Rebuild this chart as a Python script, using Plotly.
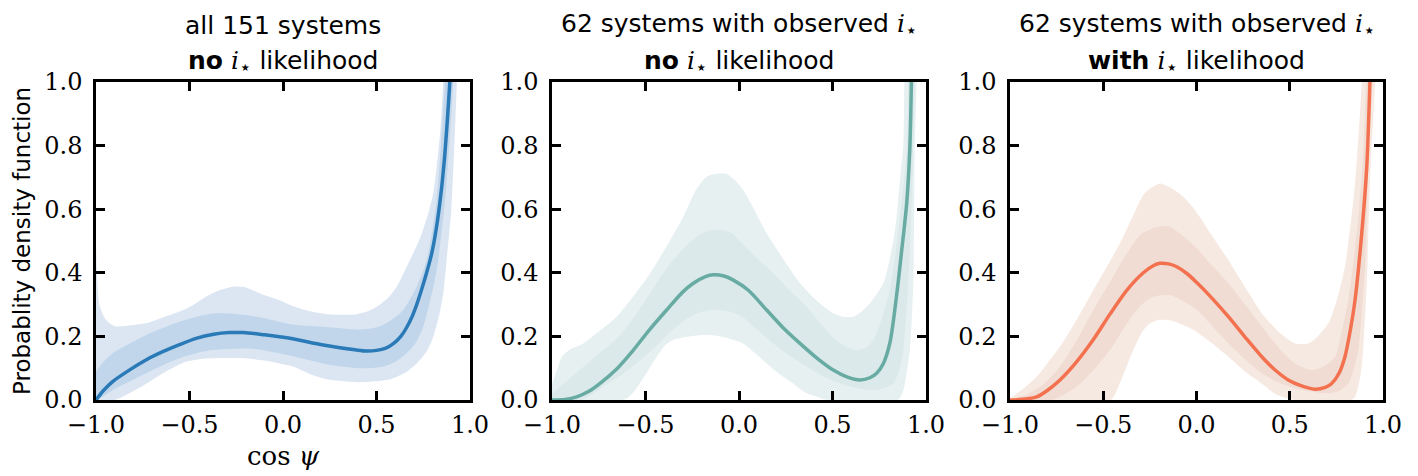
import plotly.graph_objects as go

# ---------------- data ----------------
# Panel 1: all 151 systems, no i* likelihood (blue)
p1_med_x = [-1.0, -0.96, -0.911, -0.822, -0.733, -0.643, -0.55, -0.465, -0.37, -0.287, -0.212, -0.1, 0.037, 0.215, 0.394, 0.447, 0.50, 0.55, 0.59, 0.63, 0.661, 0.69, 0.715, 0.74, 0.768, 0.795, 0.82, 0.845, 0.865, 0.88, 0.892, 0.91]
p1_med_y = [0.0, 0.03, 0.058, 0.094, 0.126, 0.152, 0.175, 0.194, 0.207, 0.212, 0.212, 0.205, 0.194, 0.173, 0.157, 0.154, 0.156, 0.163, 0.177, 0.20, 0.228, 0.262, 0.30, 0.345, 0.40, 0.46, 0.54, 0.65, 0.77, 0.89, 1.0, 1.25]

p1_out_up_x = [-1.0, -0.982, -0.947, -0.9, -0.8, -0.733, -0.654, -0.554, -0.48, -0.412, -0.34, -0.26, -0.198, -0.123, -0.02, 0.055, 0.15, 0.234, 0.32, 0.394, 0.45, 0.501, 0.56, 0.608, 0.679, 0.74, 0.80, 0.84, 0.857, 0.87]
p1_out_up_y = [0.50, 0.30, 0.252, 0.232, 0.236, 0.241, 0.257, 0.278, 0.299, 0.325, 0.345, 0.357, 0.354, 0.335, 0.314, 0.295, 0.278, 0.27, 0.268, 0.27, 0.278, 0.293, 0.32, 0.356, 0.44, 0.52, 0.64, 0.84, 1.0, 1.2]
p1_out_lo_x = [-1.0, -0.9, -0.822, -0.72, -0.643, -0.56, -0.519, -0.45, -0.376, -0.198, -0.1, -0.02, 0.055, 0.15, 0.234, 0.394, 0.48, 0.572, 0.65, 0.715, 0.77, 0.804, 0.84, 0.857, 0.875, 0.90, 0.93, 0.94]
p1_out_lo_y = [0.0, 0.0, 0.021, 0.055, 0.084, 0.11, 0.12, 0.128, 0.131, 0.131, 0.124, 0.115, 0.105, 0.08, 0.065, 0.056, 0.058, 0.065, 0.085, 0.115, 0.155, 0.199, 0.28, 0.335, 0.44, 0.6, 1.0, 1.2]

p1_in_up_x = [-1.0, -0.96, -0.911, -0.82, -0.733, -0.64, -0.554, -0.46, -0.376, -0.29, -0.198, -0.1, -0.02, 0.037, 0.215, 0.394, 0.47, 0.536, 0.6, 0.643, 0.715, 0.768, 0.82, 0.866, 0.88]
p1_in_up_y = [0.09, 0.12, 0.147, 0.178, 0.204, 0.227, 0.246, 0.262, 0.272, 0.272, 0.267, 0.257, 0.246, 0.238, 0.23, 0.222, 0.225, 0.236, 0.26, 0.283, 0.356, 0.44, 0.62, 1.0, 1.2]
p1_in_lo_x = [-1.0, -0.96, -0.911, -0.82, -0.733, -0.64, -0.554, -0.46, -0.376, -0.198, -0.1, -0.02, 0.037, 0.215, 0.30, 0.394, 0.47, 0.536, 0.6, 0.661, 0.71, 0.75, 0.804, 0.83, 0.87, 0.91, 0.92]
p1_in_lo_y = [0.0, 0.012, 0.031, 0.058, 0.084, 0.11, 0.131, 0.148, 0.157, 0.162, 0.156, 0.147, 0.14, 0.115, 0.106, 0.1, 0.1, 0.105, 0.12, 0.147, 0.18, 0.23, 0.356, 0.44, 0.65, 1.0, 1.2]

# Panel 2: 62 systems, no i* likelihood (teal)
p2_med_x = [-1.0, -0.93, -0.868, -0.8, -0.743, -0.65, -0.565, -0.48, -0.387, -0.3, -0.244, -0.18, -0.137, -0.08, -0.03, 0.05, 0.148, 0.24, 0.326, 0.42, 0.504, 0.58, 0.647, 0.7, 0.736, 0.772, 0.807, 0.843, 0.87, 0.897, 0.914, 0.922, 0.93]
p2_med_y = [0.0, 0.002, 0.01, 0.028, 0.052, 0.10, 0.157, 0.22, 0.283, 0.34, 0.367, 0.388, 0.394, 0.39, 0.377, 0.345, 0.283, 0.225, 0.178, 0.13, 0.094, 0.072, 0.063, 0.07, 0.084, 0.115, 0.18, 0.33, 0.47, 0.62, 0.80, 1.0, 1.2]

p2_out_up_x = [-1.0, -0.97, -0.947, -0.9, -0.833, -0.74, -0.654, -0.56, -0.476, -0.39, -0.298, -0.23, -0.173, -0.11, -0.066, -0.02, 0.023, 0.08, 0.148, 0.24, 0.326, 0.42, 0.504, 0.56, 0.611, 0.66, 0.70, 0.772, 0.825, 0.843, 0.865, 0.879, 0.884, 0.89]
p2_out_up_y = [0.05, 0.10, 0.136, 0.16, 0.178, 0.22, 0.262, 0.33, 0.398, 0.48, 0.576, 0.66, 0.702, 0.712, 0.711, 0.69, 0.66, 0.60, 0.524, 0.44, 0.367, 0.31, 0.273, 0.262, 0.262, 0.28, 0.304, 0.367, 0.50, 0.576, 0.72, 0.80, 1.0, 1.3]
p2_out_lo_x = [-1.0, -0.62, -0.58, -0.53, -0.44, -0.39, -0.351, -0.287, -0.209, -0.109, -0.03, 0.016, 0.08, 0.148, 0.22, 0.29, 0.35, 0.415, 0.47, 0.85, 0.879, 0.9, 0.914, 0.932, 0.94, 0.95, 0.955]
p2_out_lo_y = [0.0, 0.0, 0.015, 0.052, 0.136, 0.175, 0.189, 0.198, 0.204, 0.201, 0.189, 0.18, 0.15, 0.115, 0.08, 0.052, 0.025, 0.01, 0.0, 0.0, 0.031, 0.10, 0.157, 0.367, 0.786, 1.0, 1.2]

p2_in_up_x = [-1.0, -0.9, -0.8, -0.72, -0.643, -0.55, -0.465, -0.38, -0.287, -0.21, -0.144, -0.08, -0.037, 0.005, 0.09, 0.183, 0.27, 0.362, 0.45, 0.54, 0.629, 0.68, 0.718, 0.76, 0.807, 0.861, 0.897, 0.905, 0.91]
p2_in_up_y = [0.02, 0.07, 0.12, 0.16, 0.199, 0.27, 0.346, 0.42, 0.482, 0.52, 0.535, 0.533, 0.524, 0.50, 0.45, 0.398, 0.345, 0.293, 0.23, 0.178, 0.157, 0.165, 0.189, 0.25, 0.346, 0.576, 0.786, 1.0, 1.2]
p2_in_lo_x = [-1.0, -0.85, -0.78, -0.72, -0.643, -0.55, -0.465, -0.38, -0.287, -0.21, -0.144, -0.07, 0.0, 0.09, 0.183, 0.27, 0.362, 0.45, 0.54, 0.63, 0.718, 0.78, 0.825, 0.855, 0.879, 0.914, 0.932, 0.94, 0.945]
p2_in_lo_y = [0.0, 0.0, 0.02, 0.045, 0.073, 0.115, 0.157, 0.207, 0.252, 0.275, 0.283, 0.28, 0.268, 0.225, 0.178, 0.14, 0.105, 0.075, 0.052, 0.038, 0.031, 0.038, 0.052, 0.09, 0.157, 0.472, 0.786, 1.0, 1.2]

# Panel 3: 62 systems, with i* likelihood (orange)
p3_med_x = [-1.0, -0.93, -0.857, -0.8, -0.732, -0.643, -0.553, -0.464, -0.374, -0.285, -0.23, -0.196, -0.15, -0.106, -0.05, 0.0, 0.08, 0.171, 0.26, 0.35, 0.42, 0.492, 0.56, 0.635, 0.69, 0.725, 0.765, 0.796, 0.825, 0.85, 0.886, 0.913, 0.93, 0.94]
p3_med_y = [0.0, 0.002, 0.01, 0.03, 0.063, 0.12, 0.19, 0.27, 0.345, 0.40, 0.423, 0.43, 0.428, 0.419, 0.397, 0.37, 0.322, 0.262, 0.198, 0.136, 0.095, 0.063, 0.045, 0.034, 0.04, 0.052, 0.085, 0.136, 0.22, 0.314, 0.524, 0.734, 1.0, 1.2]

p3_out_up_x = [-1.0, -0.93, -0.857, -0.8, -0.732, -0.64, -0.553, -0.48, -0.41, -0.34, -0.285, -0.24, -0.196, -0.14, -0.071, -0.008, 0.08, 0.171, 0.26, 0.35, 0.44, 0.528, 0.6, 0.65, 0.707, 0.75, 0.796, 0.85, 0.886, 0.895]
p3_out_up_y = [0.005, 0.035, 0.073, 0.115, 0.168, 0.255, 0.346, 0.42, 0.493, 0.58, 0.645, 0.668, 0.681, 0.668, 0.639, 0.597, 0.52, 0.44, 0.355, 0.273, 0.215, 0.178, 0.178, 0.20, 0.241, 0.31, 0.419, 0.681, 1.0, 1.2]
p3_out_lo_x = [-1.0, -0.46, -0.42, -0.339, -0.29, -0.249, -0.2, -0.16, -0.1, -0.053, 0.0, 0.08, 0.171, 0.26, 0.35, 0.42, 0.49, 0.53, 0.83, 0.85, 0.87, 0.886, 0.913, 0.93, 0.957, 0.965]
p3_out_lo_y = [0.0, 0.0, 0.04, 0.157, 0.215, 0.241, 0.252, 0.252, 0.243, 0.231, 0.215, 0.18, 0.136, 0.09, 0.052, 0.02, 0.005, 0.0, 0.0, 0.01, 0.05, 0.105, 0.367, 0.681, 1.0, 1.2]

p3_in_up_x = [-1.0, -0.9, -0.82, -0.732, -0.64, -0.553, -0.46, -0.374, -0.3, -0.232, -0.18, -0.142, -0.07, 0.0, 0.08, 0.171, 0.26, 0.35, 0.44, 0.528, 0.618, 0.68, 0.743, 0.78, 0.814, 0.868, 0.895, 0.91, 0.92]
p3_in_up_y = [0.0, 0.02, 0.05, 0.105, 0.19, 0.283, 0.375, 0.461, 0.52, 0.54, 0.547, 0.545, 0.515, 0.478, 0.425, 0.367, 0.30, 0.231, 0.165, 0.115, 0.094, 0.105, 0.136, 0.22, 0.314, 0.576, 0.786, 1.0, 1.2]
p3_in_lo_x = [-1.0, -0.78, -0.732, -0.643, -0.55, -0.464, -0.39, -0.321, -0.27, -0.232, -0.142, -0.07, 0.0, 0.08, 0.171, 0.26, 0.35, 0.44, 0.528, 0.62, 0.707, 0.77, 0.814, 0.84, 0.868, 0.903, 0.921, 0.93, 0.935]
p3_in_lo_y = [0.0, 0.0, 0.01, 0.042, 0.095, 0.157, 0.225, 0.283, 0.312, 0.325, 0.33, 0.31, 0.285, 0.235, 0.178, 0.128, 0.084, 0.055, 0.037, 0.026, 0.021, 0.03, 0.052, 0.09, 0.157, 0.419, 0.734, 1.0, 1.2]

xtick_vals = [-1.0, -0.5, 0.0, 0.5, 1.0]
xtick_text = ["\u22121.0", "\u22120.5", "0.0", "0.5", "1.0"]
ytick_vals = [0.0, 0.2, 0.4, 0.6, 0.8, 1.0]
ytick_text = ["0.0", "0.2", "0.4", "0.6", "0.8", "1.0"]

ISTAR = ("<span style=\"font-family:'DejaVu Serif'\"><i>i</i></span>"
         "<sub><span style=\"font-size:20px\">\u22c6</span></sub>")
title_line1 = ["all 151 systems", "62 systems with observed " + ISTAR, "62 systems with observed " + ISTAR]
title_line2 = ["<b>no</b> " + ISTAR + " likelihood", "<b>no</b> " + ISTAR + " likelihood", "<b>with</b> " + ISTAR + " likelihood"]

# ---------------- styles ----------------
W, H = 1418, 476
panel_px = [(96, 470), (552, 926), (1010, 1383)]
top_px, bot_px = 82, 400
line_colors = ["#2a7ab8", "#67aba3", "#f3714f"]
outer_colors = ["#dbe6f2", "#e6f0f1", "#f6e9e2"]
inner_colors = ["#c1d6ea", "#dbe9ea", "#f0dcd2"]

panels = [
    dict(med=(p1_med_x, p1_med_y), ou=(p1_out_up_x, p1_out_up_y), ol=(p1_out_lo_x, p1_out_lo_y),
         iu=(p1_in_up_x, p1_in_up_y), il=(p1_in_lo_x, p1_in_lo_y)),
    dict(med=(p2_med_x, p2_med_y), ou=(p2_out_up_x, p2_out_up_y), ol=(p2_out_lo_x, p2_out_lo_y),
         iu=(p2_in_up_x, p2_in_up_y), il=(p2_in_lo_x, p2_in_lo_y)),
    dict(med=(p3_med_x, p3_med_y), ou=(p3_out_up_x, p3_out_up_y), ol=(p3_out_lo_x, p3_out_lo_y),
         iu=(p3_in_up_x, p3_in_up_y), il=(p3_in_lo_x, p3_in_lo_y)),
]

fig = go.Figure()

def band(upper, lower, color, xa, ya):
    xs = list(upper[0]) + list(reversed(lower[0]))
    ys = list(upper[1]) + list(reversed(lower[1]))
    return go.Scatter(x=xs, y=ys, fill="toself", fillcolor=color, mode="lines",
                      line=dict(width=0, shape="spline", smoothing=0.7),
                      hoverinfo="skip", showlegend=False, xaxis=xa, yaxis=ya)

for i, p in enumerate(panels):
    xa = "x" if i == 0 else f"x{i+1}"
    ya = "y" if i == 0 else f"y{i+1}"
    fig.add_trace(band(p["ou"], p["ol"], outer_colors[i], xa, ya))
    fig.add_trace(band(p["iu"], p["il"], inner_colors[i], xa, ya))
    fig.add_trace(go.Scatter(x=p["med"][0], y=p["med"][1], mode="lines",
                             line=dict(color=line_colors[i], width=3.5, shape="spline", smoothing=0.8),
                             showlegend=False, xaxis=xa, yaxis=ya))

tick_font = dict(family="DejaVu Serif", size=24, color="black")
layout = dict(width=W, height=H, margin=dict(l=0, r=0, t=0, b=0, pad=0, autoexpand=False),
              paper_bgcolor="white", plot_bgcolor="white", showlegend=False)
ydom = [1 - bot_px / H, 1 - top_px / H]
for i, (l, r) in enumerate(panel_px):
    xk = "xaxis" if i == 0 else f"xaxis{i+1}"
    yk = "yaxis" if i == 0 else f"yaxis{i+1}"
    xa = "x" if i == 0 else f"x{i+1}"
    ya = "y" if i == 0 else f"y{i+1}"
    common = dict(showline=True, linecolor="black", linewidth=2.5, mirror="ticks",
                  ticks="inside", ticklen=9, tickwidth=2.5, tickcolor="black",
                  showgrid=False, zeroline=False, tickfont=tick_font, automargin=False)
    layout[xk] = dict(domain=[l / W, r / W], range=[-1, 1], anchor=ya,
                      tickvals=xtick_vals, ticktext=xtick_text, ticklabelstandoff=1, **common)
    layout[yk] = dict(domain=ydom, range=[0, 1], anchor=xa,
                      tickvals=ytick_vals, ticktext=ytick_text, ticklabelstandoff=6, **common)
fig.update_layout(**layout)

title_font = dict(family="DejaVu Sans", size=25, color="black")
for i, (l, r) in enumerate(panel_px):
    cx = (l + r) / 2 / W
    fig.add_annotation(x=cx, y=1 - 25 / H, xref="paper", yref="paper", text=title_line1[i],
                       showarrow=False, font=title_font, xanchor="center", yanchor="middle")
    fig.add_annotation(x=cx, y=1 - 63 / H, xref="paper", yref="paper", text=title_line2[i],
                       showarrow=False, font=title_font, xanchor="center", yanchor="middle")

fig.add_annotation(x=22 / W, y=1 - 241 / H, xref="paper", yref="paper",
                   text="Probablity density function", textangle=-90, showarrow=False,
                   font=dict(family="DejaVu Sans", size=23, color="black"),
                   xanchor="center", yanchor="middle")
fig.add_annotation(x=283 / W, y=1 - 456 / H, xref="paper", yref="paper",
                   text="cos <i>\u03c8</i>", showarrow=False,
                   font=dict(family="DejaVu Serif", size=26, color="black"),
                   xanchor="center", yanchor="middle")

fig.write_html("out.html", config={"displayModeBar": False},
               post_script="document.body.style.margin='0px';document.body.style.padding='0px';"
                           "document.body.style.overflow='hidden';")
